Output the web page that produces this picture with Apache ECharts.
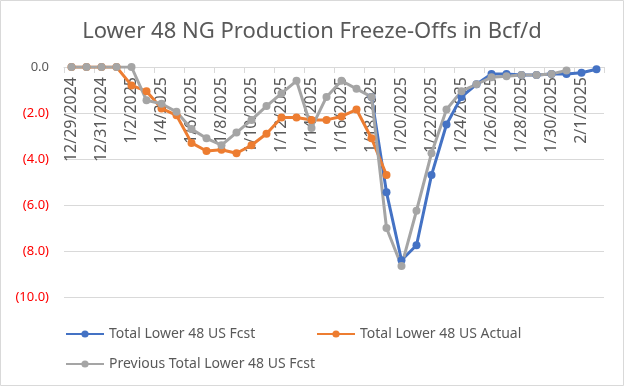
<!DOCTYPE html>
<html><head><meta charset="utf-8">
<script src="https://cdn.jsdelivr.net/npm/echarts@6/dist/echarts.min.js"></script>
<style>html,body{margin:0;padding:0;background:#fff}#c{width:624px;height:386px}</style>
</head><body><div id="c"></div>
<script>
const categories = ['12/29/2024','12/30/2024','12/31/2024','1/1/2025','1/2/2025','1/3/2025','1/4/2025','1/5/2025','1/6/2025','1/7/2025','1/8/2025','1/9/2025','1/10/2025','1/11/2025','1/12/2025','1/13/2025','1/14/2025','1/15/2025','1/16/2025','1/17/2025','1/18/2025','1/19/2025','1/20/2025','1/21/2025','1/22/2025','1/23/2025','1/24/2025','1/25/2025','1/26/2025','1/27/2025','1/28/2025','1/29/2025','1/30/2025','1/31/2025','2/1/2025','2/2/2025'];
const fcst = [null,null,null,null,null,null,null,null,null,null,null,null,null,null,null,null,null,null,null,null,-1.3,-5.45,-8.4,-7.75,-4.7,-2.5,-1.3,-0.75,-0.3,-0.3,-0.35,-0.35,-0.3,-0.3,-0.25,-0.1];
const actual = [0,0,0,0,-0.8,-1.05,-1.8,-2.1,-3.3,-3.65,-3.6,-3.75,-3.4,-2.9,-2.2,-2.2,-2.3,-2.3,-2.15,-1.85,-3.1,-4.7,null,null,null,null,null,null,null,null,null,null,null,null,null,null];
const previous = [0,0,0,0,0,-1.45,-1.6,-1.95,-2.7,-3.1,-3.4,-2.85,-2.3,-1.7,-1.15,-0.6,-2.65,-1.3,-0.6,-0.95,-1.3,-7.0,-8.65,-6.25,-3.75,-1.85,-1.05,-0.75,-0.45,-0.4,-0.35,-0.35,-0.3,-0.15,null,null];
const seriesNames = ['Total Lower 48 US Fcst','Total Lower 48 US Actual','Previous Total Lower 48 US Fcst'];
const colors = ['#4472C4','#ED7D31','#A5A5A5'];
const FONT = 'Noto Sans';
const chart = echarts.init(document.getElementById('c'));
function mk(name, data, color){
  return {name, type:'line', data, color, symbol:'circle', symbolSize:8, connectNulls:false,
    lineStyle:{width:3, color}, itemStyle:{color}, emphasis:{disabled:true}};
}
const legendCommon = {itemWidth:38, itemHeight:9, itemGap:4, textStyle:{color:'#595959', fontSize:14, fontFamily:FONT}};
chart.setOption({
  animation:false,
  title:{text:'Lower 48 NG Production Freeze-Offs in Bcf/d', left:'center', top:16,
    textStyle:{color:'#595959', fontSize:22, fontWeight:'normal', fontFamily:FONT}},
  graphic:[{type:'rect', shape:{x:0.5,y:0.5,width:623,height:385}, style:{fill:'none', stroke:'#d9d9d9', lineWidth:1}}],
  grid:{left:64, right:20, top:67, height:230},
  legend:[
    Object.assign({data:[seriesNames[0]], left:60, top:322}, legendCommon),
    Object.assign({data:[seriesNames[1]], left:311, top:322}, legendCommon),
    Object.assign({data:[seriesNames[2]], left:60, top:352}, legendCommon)
  ],
  xAxis:{type:'category', data:categories, boundaryGap:true, position:'top',
    axisLine:{lineStyle:{color:'#d9d9d9', width:1}},
    axisTick:{show:true, inside:true, interval:1, length:6, lineStyle:{color:'#d9d9d9'}},
    axisLabel:{inside:true, interval:1, rotate:90, color:'#595959', fontSize:16, fontFamily:FONT, margin:10}},
  yAxis:{type:'value', min:-10, max:0, interval:2,
    axisLine:{show:false}, axisTick:{show:false},
    splitLine:{lineStyle:{color:'#d9d9d9', width:1}},
    axisLabel:{fontSize:13, fontFamily:FONT, margin:15,
      color:function(v){ return Number(v) < 0 ? '#FF0000' : '#595959'; },
      formatter:function(v){ return v < 0 ? '(' + Math.abs(v).toFixed(1) + ')' : v.toFixed(1); }}},
  series:[mk(seriesNames[0], fcst, colors[0]), mk(seriesNames[1], actual, colors[1]), mk(seriesNames[2], previous, colors[2])]
});
</script></body></html>
